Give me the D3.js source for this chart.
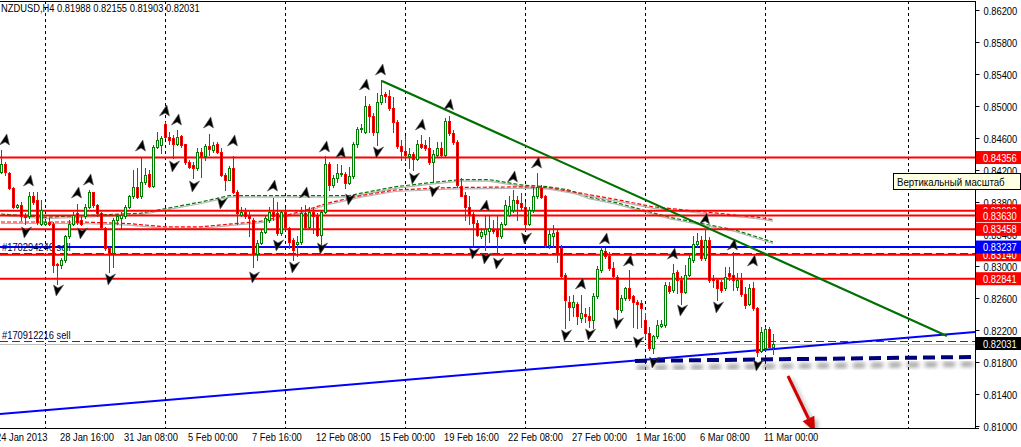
<!DOCTYPE html>
<html><head><meta charset="utf-8">
<script src="https://cdn.jsdelivr.net/npm/d3@7"></script>
<style>
body{margin:0;background:#fff}
svg{display:block}
text{font-family:"Liberation Sans",Arial,sans-serif;font-size:11px}
</style></head><body>
<svg id="c" width="1021" height="447"></svg>
<script>
// ---------- DATA ----------
const symbolTitle = "NZDUSD,H4  0.81988 0.82155 0.81903 0.82031";
const opens = [0.8417,0.8427,0.8416,0.8397,0.8374,0.8376,0.8363,0.8362,0.8387,0.8383,0.8353,0.8353,0.8355,0.8353,0.8303,0.8301,0.8308,0.8337,0.8353,0.8366,
0.8357,0.8362,0.8374,0.8392,0.8376,0.8366,0.8347,0.8322,0.8316,0.8358,0.8360,0.8362,0.8374,0.8387,0.8399,0.8387,0.8405,0.8415,0.8400,0.8449,
0.8451,0.8478,0.8461,0.8460,0.8453,0.8462,0.8452,0.8430,0.8426,0.8422,0.8443,0.8437,0.8450,0.8445,0.8453,0.8442,0.8414,0.8408,0.8422,0.8393,
0.8364,0.8368,0.8363,0.8358,0.8315,0.8329,0.8343,0.8358,0.8368,0.8366,0.8341,0.8368,0.8347,0.8333,0.8328,0.8330,0.8366,0.8349,0.8368,0.8363,
0.8339,0.8368,0.8428,0.8401,0.8410,0.8415,0.8415,0.8404,0.8412,0.8453,0.8471,0.8468,0.8500,0.8487,0.8468,0.8505,0.8515,0.8512,0.8497,0.8480,
0.8450,0.8444,0.8437,0.8440,0.8434,0.8453,0.8451,0.8448,0.8430,0.8439,0.8448,0.8439,0.8481,0.8466,0.8455,0.8400,0.8389,0.8374,0.8365,0.8354,
0.8338,0.8340,0.8344,0.8346,0.8345,0.8338,0.8353,0.8364,0.8370,0.8383,0.8379,0.8374,0.8353,0.8370,0.8387,0.8398,0.8387,0.8326,0.8337,0.8343,
0.8322,0.8289,0.8255,0.8249,0.8253,0.8235,0.8240,0.8238,0.8233,0.8262,0.8295,0.8319,0.8313,0.8297,0.8286,0.8245,0.8260,0.8272,0.8262,0.8255,
0.8254,0.8232,0.8216,0.8197,0.8212,0.8225,0.8226,0.8275,0.8270,0.8292,0.8283,0.8268,0.8289,0.8308,0.8327,0.8332,0.8310,0.8333,0.8285,0.8282,
0.8280,0.8272,0.8291,0.8289,0.8274,0.8282,0.8265,0.8253,0.8272,0.8247,0.8194,0.8197,0.8221,0.81988];
const highs = [0.8445,0.8430,0.8418,0.8399,0.8378,0.8380,0.8366,0.8393,0.8393,0.8393,0.8383,0.8358,0.8360,0.8355,0.8304,0.8310,0.8339,0.8358,0.8368,0.8378,
0.8362,0.8378,0.8395,0.8393,0.8378,0.8368,0.8349,0.8324,0.8360,0.8365,0.8368,0.8376,0.8389,0.8420,0.8422,0.8435,0.8422,0.8420,0.8451,0.8468,
0.8463,0.8480,0.8468,0.8464,0.8470,0.8464,0.8453,0.8433,0.8430,0.8447,0.8447,0.8453,0.8465,0.8455,0.8455,0.8447,0.8416,0.8425,0.8437,0.8395,
0.8374,0.8372,0.8368,0.8360,0.8333,0.8345,0.8364,0.8374,0.8385,0.8380,0.8370,0.8372,0.8349,0.8335,0.8337,0.8374,0.8376,0.8374,0.8372,0.8366,
0.8370,0.8437,0.8430,0.8414,0.8428,0.8426,0.8418,0.8424,0.8455,0.8474,0.8478,0.8513,0.8503,0.8491,0.8516,0.8532,0.8518,0.8520,0.8511,0.8483,
0.8458,0.8462,0.8447,0.8443,0.8458,0.8464,0.8458,0.8461,0.8445,0.8455,0.8455,0.8485,0.8488,0.8470,0.8458,0.8410,0.8393,0.8387,0.8368,0.8358,
0.8347,0.8362,0.8362,0.8358,0.8362,0.8355,0.8383,0.8387,0.8395,0.8387,0.8391,0.8380,0.8374,0.8399,0.8416,0.8401,0.8389,0.8345,0.8351,0.8345,
0.8326,0.8291,0.8262,0.8264,0.8255,0.8264,0.8247,0.8249,0.8266,0.8300,0.8324,0.8322,0.8318,0.8305,0.8289,0.8264,0.8274,0.8295,0.8264,0.8257,
0.8257,0.8241,0.8224,0.8214,0.8232,0.8232,0.8280,0.8280,0.8303,0.8295,0.8287,0.8301,0.8314,0.8337,0.8341,0.8337,0.8346,0.8336,0.8289,0.8285,
0.8282,0.8299,0.8299,0.8318,0.8291,0.8291,0.8274,0.8278,0.8280,0.8249,0.8224,0.8224,0.8224,0.82155];
const lows = [0.8416,0.8414,0.8396,0.8373,0.8372,0.8358,0.8353,0.8360,0.8378,0.8353,0.8351,0.8351,0.8351,0.8293,0.8278,0.8297,0.8305,0.8335,0.8351,0.8353,
0.8351,0.8360,0.8372,0.8374,0.8362,0.8347,0.8320,0.8293,0.8299,0.8353,0.8347,0.8360,0.8372,0.8385,0.8385,0.8385,0.8403,0.8399,0.8399,0.8447,
0.8441,0.8460,0.8453,0.8435,0.8451,0.8449,0.8428,0.8422,0.8410,0.8420,0.8411,0.8433,0.8439,0.8443,0.8441,0.8412,0.8395,0.8407,0.8391,0.8353,
0.8362,0.8360,0.8337,0.8299,0.8308,0.8328,0.8341,0.8355,0.8358,0.8339,0.8339,0.8345,0.8322,0.8308,0.8312,0.8328,0.8347,0.8347,0.8341,0.8337,
0.8324,0.8366,0.8395,0.8399,0.8405,0.8412,0.8397,0.8403,0.8410,0.8449,0.8468,0.8466,0.8468,0.8464,0.8451,0.8503,0.8505,0.8495,0.8468,0.8448,
0.8433,0.8433,0.8422,0.8420,0.8433,0.8447,0.8445,0.8428,0.8405,0.8437,0.8437,0.8437,0.8464,0.8453,0.8399,0.8387,0.8358,0.8353,0.8326,0.8337,
0.8335,0.8320,0.8330,0.8341,0.8316,0.8335,0.8351,0.8362,0.8368,0.8358,0.8370,0.8345,0.8351,0.8368,0.8385,0.8385,0.8324,0.8322,0.8324,0.8305,
0.8285,0.8222,0.8233,0.8237,0.8228,0.8230,0.8230,0.8224,0.8222,0.8260,0.8293,0.8310,0.8295,0.8285,0.8233,0.8243,0.8258,0.8258,0.8224,0.8222,
0.8224,0.8210,0.8195,0.8191,0.8210,0.8224,0.8224,0.8266,0.8268,0.8266,0.8253,0.8266,0.8287,0.8305,0.8324,0.8308,0.8308,0.8280,0.8274,0.8258,
0.8268,0.8270,0.8282,0.8270,0.8270,0.8262,0.8247,0.8251,0.8245,0.8187,0.8193,0.8195,0.8197,0.81903];
const closes = [0.8427,0.8417,0.8397,0.8374,0.8376,0.8363,0.8361,0.8387,0.8380,0.8355,0.8370,0.8355,0.8353,0.8301,0.8301,0.8308,0.8337,0.8353,0.8364,0.8355,
0.8353,0.8374,0.8393,0.8376,0.8366,0.8349,0.8322,0.8316,0.8358,0.8362,0.8364,0.8374,0.8387,0.8399,0.8386,0.8405,0.8414,0.8400,0.8449,0.8458,
0.8460,0.8461,0.8458,0.8453,0.8461,0.8451,0.8430,0.8424,0.8422,0.8443,0.8437,0.8450,0.8446,0.8451,0.8442,0.8414,0.8408,0.8422,0.8393,0.8366,
0.8368,0.8363,0.8360,0.8315,0.8329,0.8343,0.8360,0.8368,0.8362,0.8341,0.8368,0.8349,0.8330,0.8320,0.8330,0.8366,0.8349,0.8368,0.8363,0.8339,
0.8368,0.8428,0.8401,0.8410,0.8416,0.8416,0.8404,0.8412,0.8453,0.8471,0.8473,0.8500,0.8488,0.8468,0.8505,0.8514,0.8512,0.8497,0.8480,0.8450,
0.8444,0.8439,0.8440,0.8434,0.8453,0.8449,0.8448,0.8430,0.8440,0.8448,0.8439,0.8481,0.8466,0.8455,0.8401,0.8388,0.8374,0.8365,0.8354,0.8339,
0.8342,0.8346,0.8348,0.8344,0.8337,0.8353,0.8376,0.8375,0.8383,0.8379,0.8374,0.8353,0.8370,0.8387,0.8399,0.8386,0.8326,0.8340,0.8341,0.8316,
0.8287,0.8258,0.8249,0.8255,0.8237,0.8241,0.8238,0.8233,0.8262,0.8296,0.8320,0.8313,0.8297,0.8287,0.8246,0.8260,0.8272,0.8260,0.8255,0.8253,
0.8248,0.8216,0.8197,0.8212,0.8226,0.8228,0.8276,0.8269,0.8291,0.8283,0.8268,0.8289,0.8310,0.8328,0.8331,0.8310,0.8333,0.8282,0.8282,0.8273,
0.8270,0.8286,0.8287,0.8282,0.8282,0.8265,0.8251,0.8272,0.8247,0.8193,0.8218,0.8221,0.8199,0.82031];

const timeLabels = ["24 Jan 2013","28 Jan 16:00","31 Jan 08:00","5 Feb 00:00","7 Feb 16:00","12 Feb 08:00","15 Feb 00:00","19 Feb 16:00","22 Feb 08:00","27 Feb 00:00","1 Mar 16:00","6 Mar 08:00","11 Mar 00:00"];
const timeLabelBars = [-1,15,31,47,63,79,95,111,127,143,159,175,191];
const weekSeparatorBars = [11,41,71,101,131,161,191,226.75];
const priceTicks = [0.862,0.858,0.854,0.850,0.846,0.842,0.838,0.834,0.830,0.826,0.822,0.818,0.814,0.810];

const redLevels = [0.84356,0.83690,0.83630,0.83458,0.83140,0.82841];
const blueLevel = 0.83237;
const bidPrice = 0.82031;
const orderPrices = [0.83158,0.82063];
const orderNames = ["#170294246 sell","#170912216 sell"];

const maGreen = [[0,0.8365],[11,0.8361],[25,0.8364],[35,0.8366],[50,0.8380],[57,0.8388],[87,0.8388],[98.5,0.8399],[107,0.8404],[115,0.8408],[122,0.8408],[130.5,0.8401],[137,0.8399],[142,0.8395],[147,0.8386],[154,0.8379],[167,0.8361],[183.5,0.8345],[193,0.8330]];
const maRed = [[0,0.8355],[20,0.8355],[32,0.8353],[41,0.8349],[50,0.8349],[65,0.8356],[75,0.8368],[82,0.8379],[90,0.8388],[98.5,0.8395],[112,0.8398],[130.5,0.8399],[137,0.8398],[145,0.8391],[154,0.8383],[163,0.8374],[175,0.8368],[189,0.8361],[193,0.8358]];

const fractalUp = [[1,0.84575],[7,0.84063],[19,0.83913],[22,0.84075],[35,0.8450],[41,0.84938],[44,0.84825],[52,0.84788],[58,0.84563],[68,0.8400],[76,0.83913],[81,0.84488],[85,0.84413],[91,0.85263],[95,0.8545],[105,0.84763],[112,0.85013],[121,0.8375],[128,0.84113],[134,0.84288],[145,0.82775],[151,0.83338],[157,0.83063],[168,0.8315],[176,0.83588],[183,0.83263],[188,0.83063]];
const fractalDown = [[6,0.83425],[14,0.827],[20,0.83413],[27,0.82838],[43,0.8425],[48,0.840],[55,0.83788],[63,0.82863],[69,0.83263],[73,0.82988],[80,0.83225],[87,0.83838],[94,0.84425],[103,0.841],[108,0.83938],[118,0.83163],[121,0.831],[124,0.83038],[131,0.8335],[141,0.82138],[147,0.8215],[154,0.82288],[159,0.8205],[163,0.818],[170,0.8245],[179,0.82488],[189,0.81763]];

const greenTrend = [[95.25,0.85313],[236.5,0.82125]];
const blueTrend = [[-0.25,0.8115],[243.5,0.82175]];
const supportDash = [[158.5,0.81813],[243.5,0.81863]];
const redArrow = [[196.75,0.81625],[203.5,0.80925]];
const tooltipText = "Вертикальный масштаб";

// ---------- SCALES ----------
const SX = 0.85; // horizontal text compression (narrow platform font)
const svg = d3.select("#c");
const PR = 975, PB = 428, PT = 1;
const x = d3.scaleLinear().domain([0,243.5]).range([1,975]);
const y = d3.scaleLinear().domain([0.810,0.862]).range([426,10]);
const px = i => Math.round(x(i));
const py = v => Math.round(y(v));
const place = (sel, fx, fy, sx=SX) => sel.attr("x",0).attr("y",0)
  .attr("transform",(d,i)=>`translate(${typeof fx==="function"?fx(d,i):fx},${typeof fy==="function"?fy(d,i):fy}) scale(${sx},1)`);

svg.append("rect").attr("width",1021).attr("height",447).attr("fill","#fff");
const defs = svg.append("defs");
defs.append("clipPath").attr("id","plot").append("rect").attr("x",0).attr("y",PT).attr("width",PR).attr("height",PB-PT);
defs.append("filter").attr("id","blur").attr("x","-20%").attr("y","-50%").attr("width","140%").attr("height","200%")
  .append("feGaussianBlur").attr("stdDeviation",2.2);

const plot = svg.append("g").attr("clip-path","url(#plot)");

// week separators
plot.selectAll("line.sep").data(weekSeparatorBars).join("line")
  .attr("x1",d=>px(d)+0.5).attr("x2",d=>px(d)+0.5).attr("y1",PT).attr("y2",PB)
  .attr("stroke","#000").attr("stroke-dasharray","3,3").attr("stroke-width",1);

// moving averages
const maLine = d3.line().x(d=>x(d[0])).y(d=>y(d[1]));
[[maGreen,"#007a00"],[maRed,"#ff0000"]].forEach(([pts,col])=>{
  plot.append("path").attr("d",maLine(pts)).attr("fill","none").attr("stroke","#b4b4b4").attr("stroke-width",1.2).attr("transform","translate(0,1.5)");
  plot.append("path").attr("d",maLine(pts)).attr("fill","none").attr("stroke",col).attr("stroke-width",1.2).attr("stroke-dasharray","4,2");
});

// horizontal levels
plot.selectAll("line.red").data(redLevels).join("line")
  .attr("x1",0).attr("x2",PR).attr("y1",d=>y(d)).attr("y2",d=>y(d))
  .attr("stroke","#ff0000").attr("stroke-width",2);
plot.append("line").attr("x1",0).attr("x2",PR).attr("y1",y(blueLevel)).attr("y2",y(blueLevel))
  .attr("stroke","#0000ff").attr("stroke-width",2);
plot.selectAll("line.ord").data(orderPrices).join("line")
  .attr("x1",0).attr("x2",PR).attr("y1",d=>py(d)+0.5).attr("y2",d=>py(d)+0.5)
  .attr("stroke","#006400").attr("stroke-width",1).attr("stroke-dasharray","8,4");
plot.append("line").attr("x1",0).attr("x2",PR).attr("y1",py(bidPrice)+0.5).attr("y2",py(bidPrice)+0.5)
  .attr("stroke","#c0c0c0").attr("stroke-width",1);
place(plot.selectAll("text.ord").data(orderPrices).join("text").attr("fill","#000040").text((d,i)=>orderNames[i]),
  2, d=>py(d)-2);

// trend lines
const tl = d3.line().x(d=>x(d[0])).y(d=>y(d[1]));
plot.append("path").attr("d",tl(blueTrend)).attr("stroke","#0000ff").attr("stroke-width",2).attr("fill","none");
plot.append("path").attr("d",tl(greenTrend)).attr("stroke","#007000").attr("stroke-width",2.2).attr("fill","none");
plot.append("path").attr("d",tl(supportDash)).attr("stroke","#777").attr("stroke-width",5).attr("fill","none")
  .attr("stroke-dasharray","12,6").attr("transform","translate(2,7)").attr("filter","url(#blur)").attr("opacity",0.7);
plot.append("path").attr("d",tl(supportDash)).attr("stroke","#00007a").attr("stroke-width",4).attr("fill","none").attr("stroke-dasharray","12,6");

// candles
const candles = d3.range(opens.length).map(i=>({i,o:opens[i],h:highs[i],l:lows[i],c:closes[i]}));
const cg = plot.append("g").attr("shape-rendering","crispEdges");
candles.forEach(d=>{
  const cx = px(d.i);
  const up = d.c >= d.o;
  const col = up ? "#008000" : "#ff0000";
  const top = py(Math.max(d.o,d.c)), bot = py(Math.min(d.o,d.c));
  cg.append("rect").attr("x",cx).attr("width",1).attr("y",py(d.h)).attr("height",Math.max(1,py(d.l)-py(d.h)+1)).attr("fill",col);
  const hgt = Math.max(1,bot-top+1);
  cg.append("rect").attr("x",cx-1).attr("width",3).attr("y",top).attr("height",hgt).attr("fill",col);
  if (hgt>2) cg.append("rect").attr("x",cx).attr("width",1).attr("y",top+1).attr("height",hgt-2).attr("fill",up?"#fff":"#000");
});

// fractals
const upPath = "M0,-6 L5,5 L0,2 L-5,5 Z";
const dnPath = "M0,6 L5,-5 L0,-2 L-5,-5 Z";
plot.selectAll("path.fu").data(fractalUp).join("path").attr("d",upPath)
  .attr("transform",d=>`translate(${px(d[0])+0.5},${y(d[1])}) skewX(-12)`).attr("fill","#000").attr("stroke","#555").attr("stroke-width",0.6);
plot.selectAll("path.fd").data(fractalDown).join("path").attr("d",dnPath)
  .attr("transform",d=>`translate(${px(d[0])+0.5},${y(d[1])}) skewX(-12)`).attr("fill","#000").attr("stroke","#555").attr("stroke-width",0.6);

// red arrow
{
  const [a,b] = redArrow;
  const x1=x(a[0]),y1=y(a[1]),x2=x(b[0]),y2=y(b[1]);
  const len=Math.hypot(x2-x1,y2-y1), ux=(x2-x1)/len, uy=(y2-y1)/len;
  const bx=x2-ux*15, by=y2-uy*15, nx=-uy*6.5, ny=ux*6.5;
  const g = plot.append("g");
  const sh = g.append("g").attr("filter","url(#blur)").attr("opacity",0.5).attr("transform","translate(3,3)");
  sh.append("line").attr("x1",x1).attr("y1",y1).attr("x2",bx).attr("y2",by).attr("stroke","#666").attr("stroke-width",3);
  sh.append("path").attr("d",`M${x2},${y2}L${bx+nx},${by+ny}L${bx-nx},${by-ny}Z`).attr("fill","#666");
  g.append("line").attr("x1",x1).attr("y1",y1).attr("x2",bx).attr("y2",by).attr("stroke","#d40000").attr("stroke-width",3);
  g.append("path").attr("d",`M${x2},${y2}L${bx+nx},${by+ny}L${bx-nx},${by-ny}Z`).attr("fill","#d40000");
}

// frame
svg.append("line").attr("x1",0).attr("x2",PR).attr("y1",PT+0.5).attr("y2",PT+0.5).attr("stroke","#000");
svg.append("line").attr("x1",0).attr("x2",PR+4).attr("y1",PB+0.5).attr("y2",PB+0.5).attr("stroke","#000");

// right axis
const ya = svg.append("g").attr("transform",`translate(${PR+0.5},0)`)
  .call(d3.axisRight(y).tickValues(priceTicks).tickFormat(d3.format(".5f")).tickSize(4).tickPadding(4));
ya.select(".domain").attr("d",`M0,${PT}V${PB}`).attr("stroke","#000");
ya.selectAll(".tick line").attr("stroke","#000");
ya.selectAll("text").attr("font-size",11).attr("font-family","'Liberation Sans',Arial,sans-serif").attr("fill","#000")
  .attr("x",0).attr("dy",null).attr("transform",`translate(8,4) scale(${SX},1)`);

// price boxes
function box(p, fill, fg){
  const g = svg.append("g");
  g.append("rect").attr("x",PR+1).attr("y",y(p)-6.5).attr("width",1021-PR-1).attr("height",13).attr("fill",fill);
  place(g.append("text").attr("fill",fg).text(d3.format(".5f")(p)), PR+8, y(p)+4);
}
const boxOrder = [0.84356,0.83690,0.83630,0.83458,0.83140];
boxOrder.forEach(p=>box(p,"#ff0000","#fff"));
box(blueLevel,"#0000ff","#fff");
box(0.82841,"#ff0000","#fff");
box(bidPrice,"#000","#fff");

// bottom axis labels
place(svg.selectAll("text.xl").data(timeLabels).join("text").attr("fill","#000").text(d=>d),
  (d,i)=>px(timeLabelBars[i])-1, 441);

// title
place(svg.append("text").attr("fill","#000").text(symbolTitle), 1, 12);

// tooltip
svg.append("rect").attr("x",893.5).attr("y",173.5).attr("width",127).attr("height",16).attr("fill","#ffffe1").attr("stroke","#000");
place(svg.append("text").attr("fill","#000").attr("font-size",12).text(tooltipText), 897, 186, 0.88);
</script></body></html>
